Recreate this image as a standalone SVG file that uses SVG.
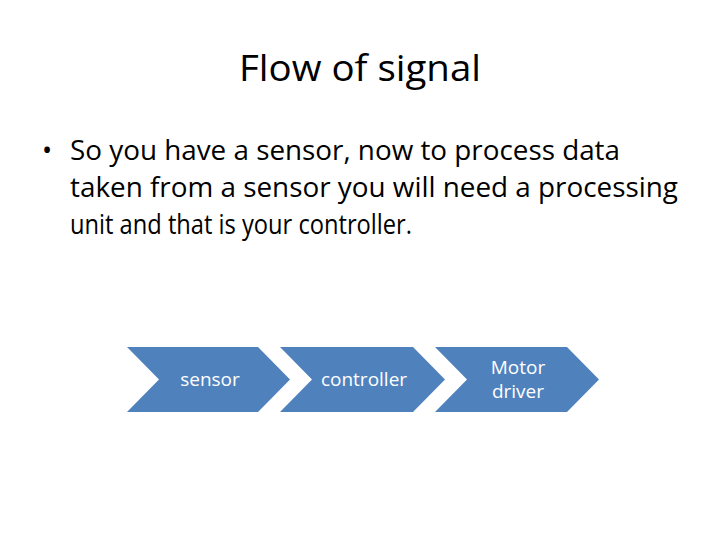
<svg xmlns="http://www.w3.org/2000/svg" width="720" height="540" viewBox="0 0 720 540">
<style>
text{font-family:"Open Sans","Liberation Sans",sans-serif;fill:#000}
.c{fill:#4F81BD}
.l{fill:#fff;font-size:19px;text-anchor:middle}
.b{font-size:27px}
</style>
<rect width="720" height="540" fill="#fff"/>
<text x="239" y="81" font-size="37" textLength="242" lengthAdjust="spacingAndGlyphs">Flow of signal</text>
<text x="42" y="160" class="b">•</text>
<text x="70" y="160" class="b" textLength="550" lengthAdjust="spacingAndGlyphs">So you have a sensor, now to process data</text>
<text x="70" y="197" class="b" textLength="608" lengthAdjust="spacingAndGlyphs">taken from a sensor you will need a processing</text>
<text x="70" y="234" class="b" textLength="342" lengthAdjust="spacingAndGlyphs">unit and that is your controller.</text>
<g id="n1"><polygon class="c" points="127,347 258,347 290,379.5 258,412 127,412 159,379.5"/><text class="l" x="210" y="386">sensor</text></g>
<g id="n2"><polygon class="c" points="280,347 413,347 445,379.5 413,412 280,412 312,379.5"/><text class="l" x="364" y="386">controller</text></g>
<g id="n3"><polygon class="c" points="435,347 567,347 599,379.5 567,412 435,412 467,379.5"/><text class="l" x="518" y="374">Motor</text><text class="l" x="518" y="398">driver</text></g>
<g id="connectors"/>
</svg>
